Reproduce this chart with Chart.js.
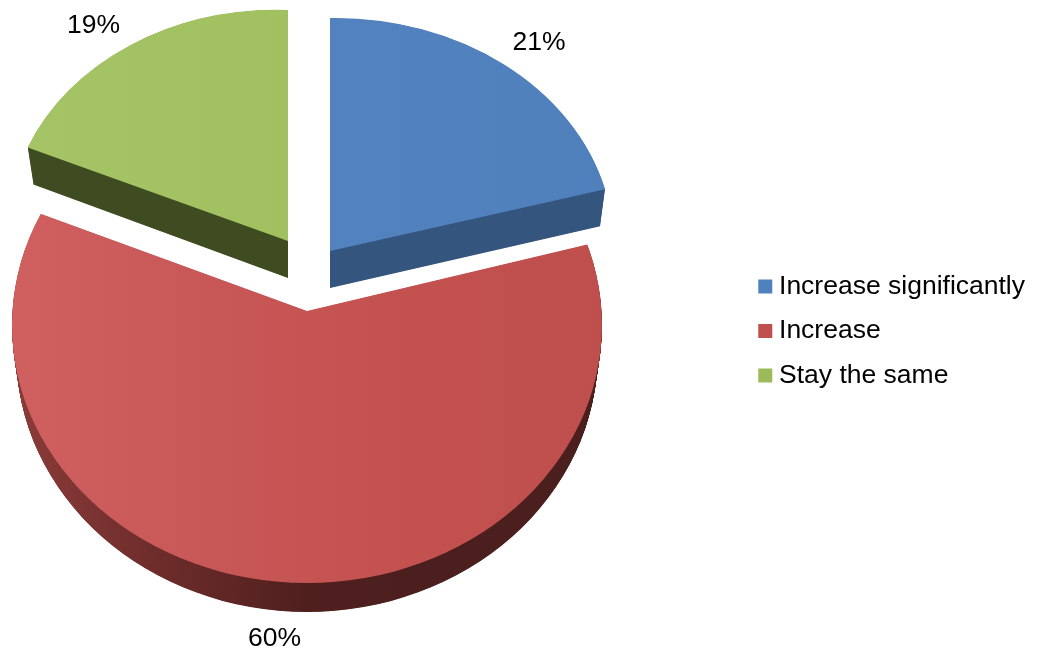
<!DOCTYPE html>
<html>
<head>
<meta charset="utf-8">
<style>
  html, body { margin: 0; padding: 0; background: #fff; }
  canvas { display: block; }
</style>
<script src="https://cdn.jsdelivr.net/npm/chart.js@4"></script>
</head>
<body>
<canvas id="chart" width="1040" height="652"></canvas>
<script>
const categories = ['Increase significantly', 'Increase', 'Stay the same'];
const shares = [21, 60, 19];
const legendColors = ['#4f81bd', '#c0504d', '#9bbb59'];

// look of the tilted 3d slices, in slice order
const topStops = [['#5586c3', '#4f80bc'], ['#d16161', '#c85857', '#c2514f', '#be4f4c'], ['#a5c465', '#9dbd5c']];
const wallStops = [['#34557e', '#34557e'], ['#8e3d3a', '#6e2d2b', '#4f1f1e', '#4a1f1e', '#4a1f1e'], ['#3f4b20', '#3f4b20']];
const apexes = [[330, 251], [307, 311], [288, 241]];
const radiiX = [284, 310, 280];
const radiiY = [233, 286, 231];
const skews = [-4, 0, 9];
const depths = [37, 29, 37];
const shrinks = [0.982, 0.985, 0.978];
const labelShift = [[35, -22], [-13, 42], [-37, -19]];
const drawOrder = [2, 0, 1];
// the big slice is in perspective: its rim is an ellipse whose centre sits below the apex
const rims = [null, { x: 307, y: 325, rx: 295, ry: 258 }, null];

function stopsGradient(ctx, arc, stops) {
  const r = arc.outerRadius;
  const g = ctx.createLinearGradient(arc.x - r, 0, arc.x + r, 0);
  stops.forEach((c, i) => g.addColorStop(i / (stops.length - 1), c));
  return g;
}

function drawSlice(ctx, arc, i, drop, scaleX, fill) {
  const r = arc.outerRadius;
  ctx.save();
  if (rims[i]) {
    ctx.beginPath();
    ctx.ellipse(rims[i].x, rims[i].y + drop, rims[i].rx * scaleX, rims[i].ry, 0, 0, Math.PI * 2);
    ctx.clip();
  }
  ctx.transform(radiiX[i] * scaleX / r, skews[i] / r, 0, radiiY[i] / r, apexes[i][0], apexes[i][1] + drop);
  ctx.translate(-arc.x, -arc.y);
  const saved = arc.options;
  arc.options = Object.assign({}, saved, { backgroundColor: stopsGradient(ctx, arc, fill), borderWidth: 0 });
  arc.draw(ctx);
  arc.options = saved;
  ctx.restore();
}

const tiltedPie = {
  id: 'tiltedPie',
  beforeDatasetsDraw(chart) {
    const ctx = chart.ctx;
    const arcs = chart.getDatasetMeta(0).data;
    drawOrder.forEach((i) => {
      for (let d = depths[i]; d > 0; d -= 0.5) {
        const s = 1 - (1 - shrinks[i]) * d / depths[i];
        drawSlice(ctx, arcs[i], i, d, s, wallStops[i]);
      }
      drawSlice(ctx, arcs[i], i, 0, 1, topStops[i]);
    });
    ctx.save();
    ctx.font = '26.5px "Liberation Sans"';
    ctx.fillStyle = '#000';
    ctx.textAlign = 'center';
    ctx.textBaseline = 'middle';
    arcs.forEach((arc, i) => {
      const mid = (arc.startAngle + arc.endAngle) / 2;
      const ux = Math.cos(mid);
      const uy = Math.sin(mid);
      const x = apexes[i][0] + radiiX[i] * ux + labelShift[i][0];
      const y = apexes[i][1] + radiiY[i] * uy + skews[i] * ux + labelShift[i][1];
      ctx.fillText(shares[i] + '%', x, y);
    });
    ctx.restore();
    return false;
  }
};

new Chart(document.getElementById('chart').getContext('2d'), {
  type: 'pie',
  plugins: [tiltedPie],
  data: {
    labels: categories,
    datasets: [{ data: shares, backgroundColor: legendColors, borderWidth: 0 }]
  },
  options: {
    responsive: false,
    animation: false,
    devicePixelRatio: 1,
    layout: { padding: { top: 10, right: 5 } },
    plugins: {
      tooltip: { enabled: false },
      legend: {
        position: 'right',
        labels: {
          usePointStyle: true,
          pointStyle: 'rect',
          boxWidth: 1,
          boxHeight: 14,
          padding: 18,
          color: '#000',
          font: { family: '"Liberation Sans"', size: 26.5, lineHeight: 1 }
        }
      }
    }
  }
});
</script>
</body>
</html>
